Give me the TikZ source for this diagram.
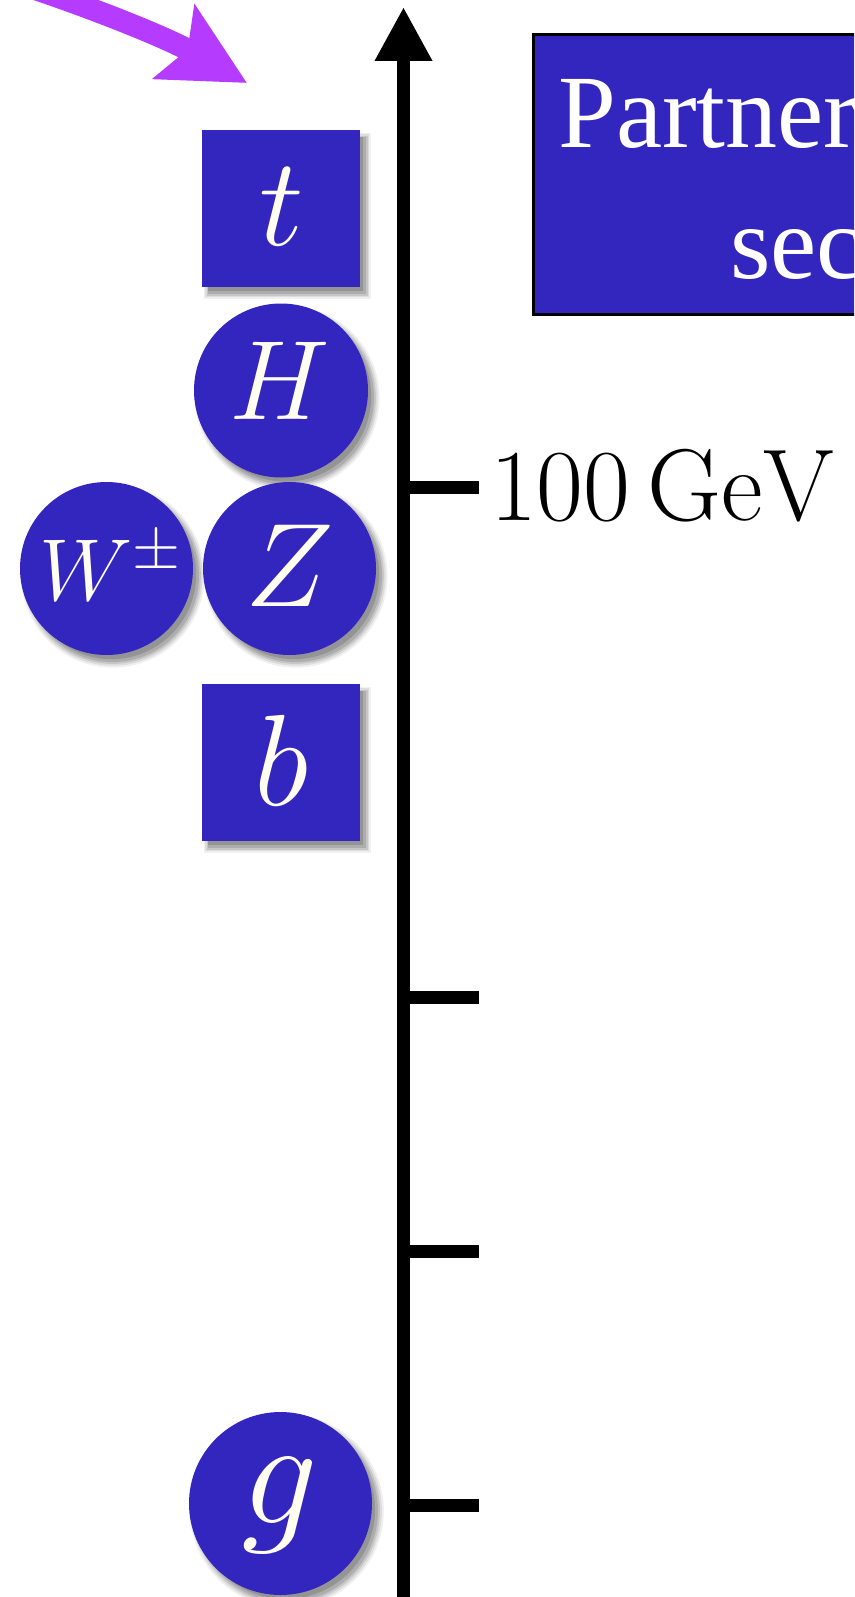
\documentclass[tikz,border=0pt]{standalone}
\usepackage{fix-cm}
\usepackage{fontspec}
\newfontfamily\boxfont{Liberation Serif}
\usetikzlibrary{arrows.meta,shadows}
\definecolor{pblue}{RGB}{51,38,191}
\definecolor{pviolet}{RGB}{181,60,255}
\definecolor{pcream}{RGB}{255,253,240}
\tikzset{
  softshadow/.style={
    drop shadow={shadow xshift=6pt, shadow yshift=-7pt, shadow scale=1.06, opacity=0.06, fill=black},
    drop shadow={shadow xshift=6pt, shadow yshift=-7pt, shadow scale=1.04, opacity=0.08, fill=black},
    drop shadow={shadow xshift=6pt, shadow yshift=-7pt, shadow scale=1.02, opacity=0.10, fill=black},
    drop shadow={shadow xshift=6pt, shadow yshift=-7pt, shadow scale=1.00, opacity=0.12, fill=black},
    drop shadow={shadow xshift=5pt, shadow yshift=-6pt, shadow scale=0.98, opacity=0.14, fill=black}},
  particle/.style={fill=pblue, draw=none, inner sep=0pt, softshadow},
  sqpart/.style={particle, rectangle, minimum width=158pt, minimum height=157pt},
  rdpart/.style={particle, circle, minimum size=#1},
  plabel/.style={text=pcream, inner sep=0pt, anchor=base},
  axisline/.style={line width=13pt, line cap=butt},
  tickline/.style={line width=13pt, line cap=butt},
  pboxstyle/.style={fill=pblue, draw=none, rectangle, inner sep=0pt, anchor=north west},
  pborder/.style={draw=black, line width=2.5pt, line join=miter},
  boxtext/.style={text=white, inner sep=0pt, anchor=base west, font=\boxfont\fontsize{104}{110}\selectfont},
  violetarrow/.style={draw=pviolet, line width=22pt, -{Stealth[length=83pt, width=83pt, inset=15pt]}}
}
\begin{document}
\begin{tikzpicture}[x=1pt,y=-1pt]
\useasboundingbox (0,0) rectangle (854,1597);
\clip (0,0) rectangle (854,1597);
\fill[white] (0,0) rectangle (854,1597);

% purple arrow
\coordinate (arrS) at (-30,-32);
\coordinate (arrE) at (247,83);
\draw[violetarrow] (arrS) .. controls (60,-5) and (160,34) .. (arrE);

% axis
\coordinate (axbot) at (403.5,1610);
\coordinate (axtop) at (403.5,7);
\draw[axisline, -{Triangle[length=54pt, width=54pt]}] (axbot) -- (axtop);

% ticks
\coordinate (tk1a) at (403.5,487);   \coordinate (tk1b) at (479,487);
\coordinate (tk2a) at (403.5,997.5); \coordinate (tk2b) at (479,997.5);
\coordinate (tk3a) at (403.5,1251.5);\coordinate (tk3b) at (479,1251.5);
\coordinate (tk4a) at (403.5,1505);  \coordinate (tk4b) at (479,1505);
\draw[tickline] (tk1a) -- (tk1b);
\draw[tickline] (tk2a) -- (tk2b);
\draw[tickline] (tk3a) -- (tk3b);
\draw[tickline] (tk4a) -- (tk4b);
\node[inner sep=0pt, anchor=base west, font=\fontsize{102}{104}\selectfont] (gev) at (490,520) {$100\,\mathrm{GeV}$};

% box
\node[pboxstyle, minimum width=420pt, minimum height=279.5pt] (pbox) at (533.5,34.5) {};
\draw[pborder] (pbox.north east) -- (pbox.north west) -- (pbox.south west) -- (pbox.south east);
\node[boxtext] (pline1) at (558,148) {Partner};
\node[boxtext] (pline2) at (730,278) {sec};

% particles
\node[sqpart] (t) at (281,208.5) {};
\node[rdpart=174pt] (H) at (281,390.5) {};
\node[rdpart=173pt] (W) at (106.5,568.5) {};
\node[rdpart=173pt] (Z) at (289.5,568.5) {};
\node[sqpart] (b) at (281,762.5) {};
\node[rdpart=183pt] (g) at (280.5,1503.5) {};

\node[plabel, font=\fontsize{126}{126}\selectfont] (tl) at (282,245.6) {$t$};
\node[plabel, font=\fontsize{113}{113}\selectfont] (Hl) at (280,419) {$H$};
\node[plabel, font=\fontsize{88}{88}\selectfont] (Wl) at (110,600) {$W^{\pm}$};
\node[plabel, font=\fontsize{119}{119}\selectfont] (Zl) at (290,606) {$Z$};
\node[plabel, font=\fontsize{130}{130}\selectfont] (bl) at (282,805.6) {$b$};
\node[plabel, font=\fontsize{152}{152}\selectfont] (gl) at (280,1523.5) {$g$};
\end{tikzpicture}
\end{document}
